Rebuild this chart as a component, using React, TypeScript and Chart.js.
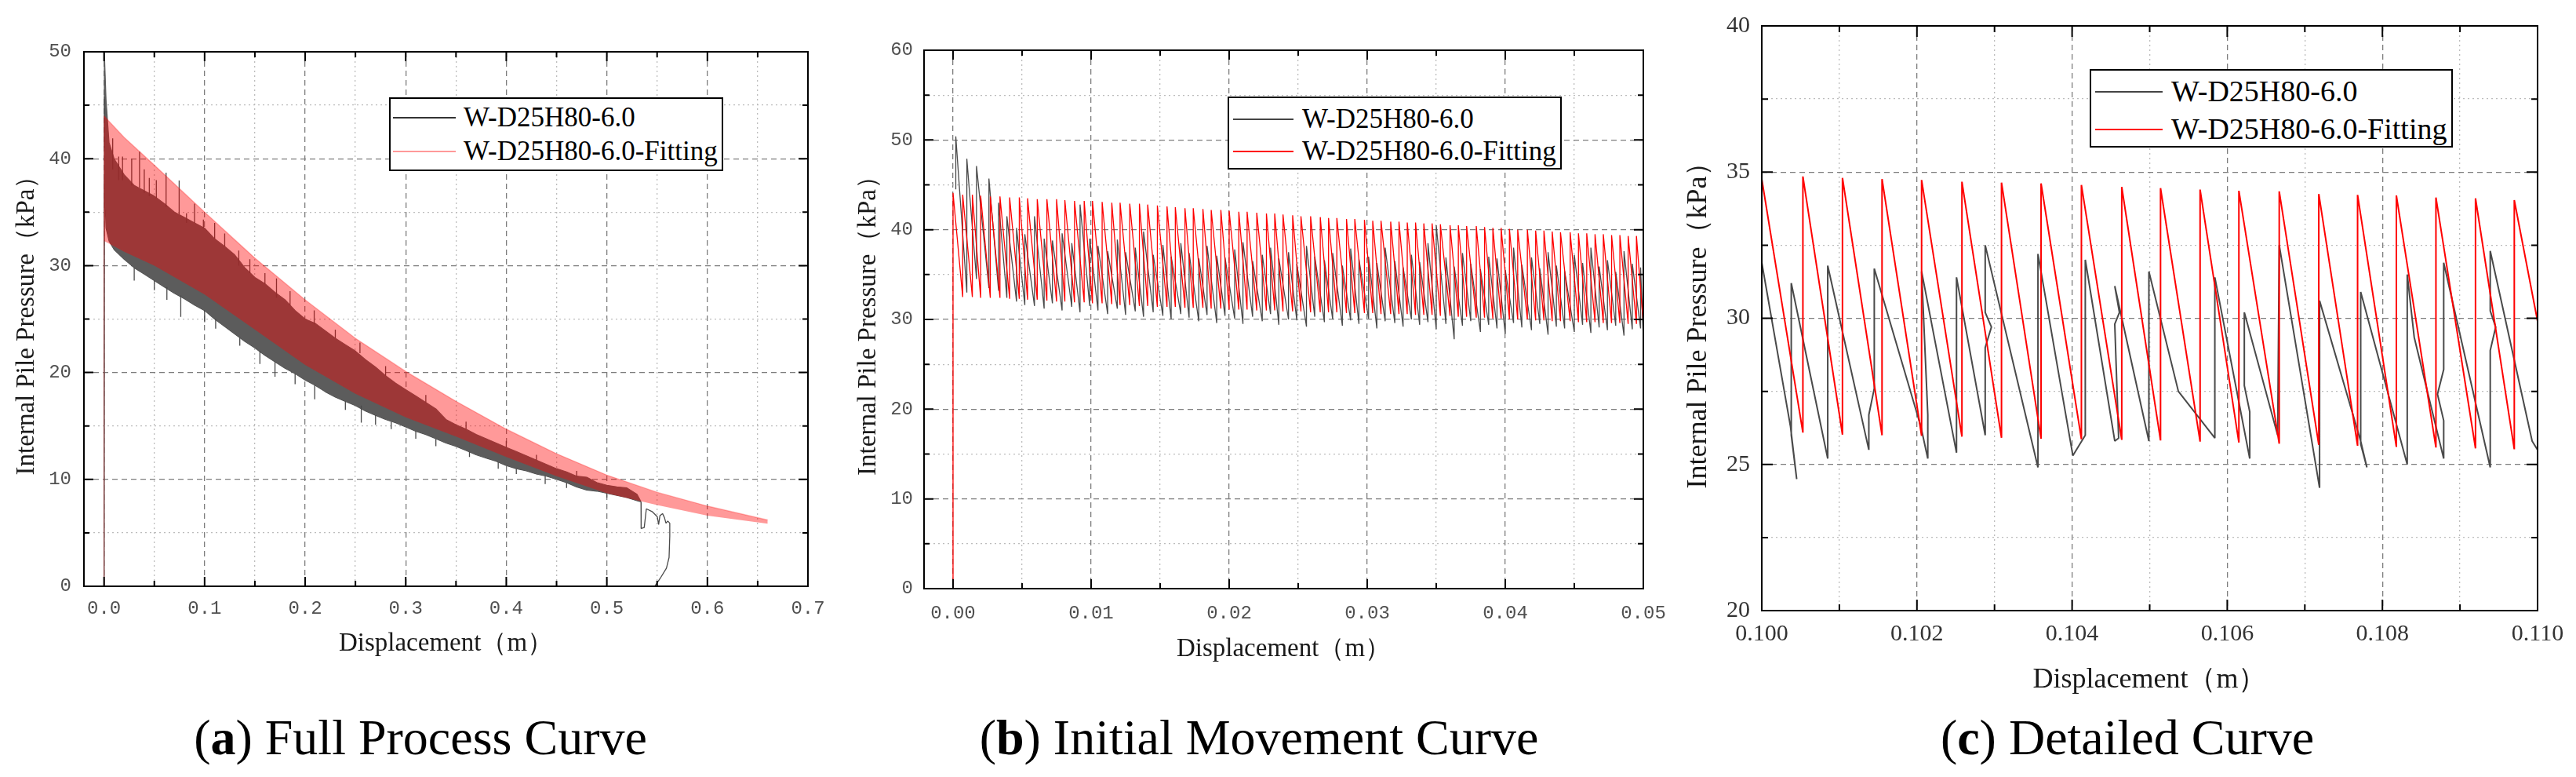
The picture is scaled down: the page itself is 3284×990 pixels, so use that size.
import { useEffect, useRef } from 'react';
import Chart from 'chart.js/auto';

const SERIF = '"Liberation Serif", "Times New Roman", serif';
const MONO = '"Liberation Mono", "DejaVu Sans Mono", monospace';
const GRAY = '#4a4a4a';
const BAND_GRAY = '#5c5c5c';
const RED = '#ff0000';

const LABEL_DATA = 'W-D25H80-6.0';
const LABEL_FIT = 'W-D25H80-6.0-Fitting';
const Y_TITLE = 'Internal Pile Pressure（kPa）';
const X_TITLE = 'Displacement（m）';

// ---------- (a) full process curve ----------
const aFitX = [0, 0, 0.02, 0.05, 0.1, 0.15, 0.2, 0.25, 0.3, 0.35, 0.4, 0.45, 0.5, 0.55, 0.6, 0.66];
const aFitHi = [0, 44.0, 42.0, 39.4, 35.0, 30.7, 26.8, 23.2, 20.1, 17.3, 14.7, 12.4, 10.4, 8.8, 7.5, 6.2];
const aFitLo = [0, 32.3, 31.3, 30.0, 27.3, 24.0, 20.7, 18.0, 15.8, 14.0, 12.1, 10.3, 8.7, 7.6, 6.6, 5.85];

const aBlkX = [0, 0.0003, 0.002, 0.005, 0.01, 0.02, 0.03, 0.04, 0.05, 0.06, 0.07, 0.08, 0.09, 0.10,
  0.11, 0.12, 0.13, 0.14, 0.15, 0.16, 0.17, 0.18, 0.19, 0.20, 0.21, 0.22, 0.23, 0.24, 0.25, 0.26, 0.27,
  0.28, 0.29, 0.30, 0.31, 0.32, 0.33, 0.34, 0.35, 0.36, 0.37, 0.38, 0.39, 0.40, 0.41, 0.42, 0.43, 0.44,
  0.45, 0.46, 0.47, 0.48, 0.49, 0.50, 0.51, 0.52, 0.53, 0.534];
const aBlkHi = [0, 50.0, 45.5, 41.5, 40.0, 38.5, 37.5, 37.0, 36.5, 35.8, 35.0, 34.5, 34.0, 33.5,
  32.5, 31.8, 31.0, 29.8, 28.9, 28.3, 27.5, 26.8, 25.8, 25.0, 24.6, 23.9, 23.2, 22.6, 22.0, 21.2, 20.5,
  19.7, 19.0, 18.4, 17.8, 17.2, 16.6, 15.6, 15.1, 14.7, 14.2, 13.8, 13.4, 13.0, 12.6, 12.2, 11.8, 11.4,
  11.0, 10.7, 10.3, 10.2, 9.7, 9.45, 9.3, 9.2, 8.6, 7.9];
const aBlkLo = [0, 38.0, 33.5, 32.3, 31.5, 30.6, 29.8, 29.2, 28.6, 28.0, 27.4, 26.9, 26.3, 25.8,
  25.0, 24.3, 23.6, 22.9, 22.3, 21.6, 21.0, 20.4, 19.9, 19.3, 18.8, 18.2, 17.7, 17.3, 16.9, 16.4, 16.0,
  15.6, 15.3, 14.9, 14.5, 14.2, 13.8, 13.4, 13.1, 12.7, 12.3, 12.0, 11.7, 11.3, 11.0, 10.8, 10.5, 10.3,
  10.0, 9.7, 9.3, 9.0, 8.9, 8.7, 8.5, 8.3, 8.0, 7.9];

// single spikes sticking out of the dense band
const aSpikeX = [0.0005, 0.0086, 0.0146, 0.0184, 0.0275, 0.030, 0.0353, 0.040, 0.045, 0.050, 0.052,
  0.0617, 0.0625, 0.0747, 0.0763, 0.082, 0.090, 0.0988, 0.100, 0.110, 0.111, 0.120, 0.134, 0.135,
  0.145, 0.155, 0.160, 0.170, 0.1715, 0.185, 0.190, 0.209, 0.2095, 0.230, 0.240, 0.2545, 0.2558,
  0.270, 0.280, 0.2856, 0.310, 0.320, 0.330, 0.360, 0.3634, 0.392, 0.400, 0.410, 0.430, 0.4387,
  0.460, 0.470, 0.500];
const aSpikeTop = [45.8, 41.9, 40.2, 40.2, 40.0, 29.8, 40.65, 39.0, 38.2, 28.6, 38.0,
  38.7, 28.0, 37.96, 27.2, 34.9, 35.8, 34.3, 25.8, 34.0, 25.0, 33.0, 31.4, 23.3,
  30.6, 22.0, 29.3, 21.0, 28.8, 27.6, 19.9, 25.8, 18.8, 24.0, 17.3, 22.8, 16.9,
  16.0, 20.6, 15.4, 14.5, 17.9, 13.8, 15.4, 12.6, 11.6, 13.6, 11.0, 12.3, 10.3,
  9.7, 10.8, 8.7];
const aSpikeBot = [41.0, 39.0, 38.0, 38.0, 37.5, 28.6, 37.3, 36.8, 36.5, 27.7, 36.3,
  35.5, 26.8, 34.8, 25.2, 34.0, 34.0, 33.5, 24.7, 32.5, 24.1, 31.8, 30.0, 22.5,
  29.3, 20.8, 28.3, 19.6, 27.0, 26.3, 18.9, 24.5, 17.5, 23.2, 16.5, 21.8, 15.3,
  15.1, 19.7, 14.7, 13.8, 17.2, 13.1, 14.7, 12.1, 11.0, 13.0, 10.5, 11.8, 9.57,
  9.2, 10.3, 8.3];

// measured curve after the band ends (drops and returns to zero)
const aTailX = [0.534, 0.5341, 0.5372, 0.5393, 0.5450, 0.5476, 0.5502, 0.5515, 0.5528, 0.5554,
  0.5574, 0.5588, 0.5606, 0.5626, 0.5626, 0.5619, 0.5593, 0.5528, 0.5476];
const aTailY = [7.9, 5.4, 5.5, 7.25, 6.99, 6.75, 6.5, 5.77, 6.6, 6.8,
  6.4, 5.9, 6.1, 5.9, 4.7, 2.7, 1.7, 0.7, 0.0];

const aXMajor = [0, 0.1, 0.2, 0.3, 0.4, 0.5, 0.6, 0.7];
const aXMinor = [0.05, 0.15, 0.25, 0.35, 0.45, 0.55, 0.65];
const aYMajor = [0, 10, 20, 30, 40, 50];
const aYMinor = [5, 15, 25, 35, 45];

// ---------- (b) initial movement curve ----------
const bFitX = [0.0000, 0.0007, 0.0014, 0.0020, 0.0027, 0.0034, 0.0041, 0.0048, 0.0054, 0.0061,
  0.0068, 0.0075, 0.0081, 0.0088, 0.0095, 0.0101, 0.0108, 0.0115, 0.0121, 0.0128,
  0.0135, 0.0141, 0.0148, 0.0155, 0.0161, 0.0168, 0.0174, 0.0181, 0.0187, 0.0194,
  0.0200, 0.0207, 0.0213, 0.0220, 0.0227, 0.0233, 0.0239, 0.0246, 0.0252, 0.0259,
  0.0266, 0.0272, 0.0278, 0.0285, 0.0291, 0.0298, 0.0304, 0.0310, 0.0317, 0.0323,
  0.0329, 0.0335, 0.0341, 0.0347, 0.0353, 0.0360, 0.0366, 0.0372, 0.0379, 0.0385,
  0.0391, 0.0397, 0.0403, 0.0409, 0.0416, 0.0422, 0.0428, 0.0434, 0.0440, 0.0447,
  0.0453, 0.0459, 0.0465, 0.0471, 0.0477, 0.0483, 0.0489, 0.0495, 0.0500];
const bFitLow = [0, 32.5, 32.5, 32.4, 32.4, 32.4, 32.3, 32.3, 32.2, 32.2,
  32.1, 32.0, 32.0, 31.9, 31.9, 31.8, 31.8, 31.7, 31.6, 31.6,
  31.5, 31.5, 31.4, 31.4, 31.4, 31.3, 31.3, 31.3, 31.2, 31.2,
  31.1, 31.1, 31.1, 31.0, 31.0, 31.0, 30.9, 30.9, 30.9, 30.8,
  30.8, 30.8, 30.8, 30.7, 30.7, 30.7, 30.7, 30.6, 30.6, 30.6,
  30.6, 30.5, 30.5, 30.5, 30.4, 30.4, 30.3, 30.3, 30.2, 30.2,
  30.1, 30.1, 30.0, 30.0, 30.0, 29.9, 29.9, 29.8, 29.8, 29.8,
  29.7, 29.7, 29.7, 29.6, 29.6, 29.6, 29.5, 29.5, 29.5];
const bFitPeak = [44.1, 43.9, 43.9, 43.8, 43.7, 43.7, 43.6, 43.6, 43.5, 43.4,
  43.4, 43.4, 43.3, 43.2, 43.2, 43.2, 43.1, 43.0, 43.0, 42.9,
  42.9, 42.8, 42.7, 42.6, 42.5, 42.4, 42.4, 42.3, 42.2, 42.2,
  42.1, 42.0, 42.0, 41.9, 41.8, 41.8, 41.7, 41.6, 41.5, 41.5,
  41.4, 41.3, 41.3, 41.2, 41.2, 41.1, 41.0, 41.0, 40.9, 40.9,
  40.8, 40.8, 40.7, 40.7, 40.6, 40.5, 40.5, 40.4, 40.4, 40.3,
  40.2, 40.2, 40.1, 40.0, 40.0, 39.9, 39.9, 39.8, 39.7, 39.7,
  39.6, 39.6, 39.5, 39.5, 39.4, 39.4, 39.3, 39.3, 39.3];

const bBlkX = [0.0002, 0.0010, 0.0017, 0.0026, 0.0033, 0.0039, 0.0046, 0.0052, 0.0059, 0.0066,
  0.0072, 0.0079, 0.0086, 0.0092, 0.0099, 0.0105, 0.0112, 0.0119, 0.0125, 0.0132,
  0.0138, 0.0145, 0.0152, 0.0158, 0.0165, 0.0171, 0.0178, 0.0184, 0.0191, 0.0197,
  0.0204, 0.0210, 0.0217, 0.0224, 0.0230, 0.0236, 0.0243, 0.0249, 0.0256, 0.0262,
  0.0269, 0.0275, 0.0282, 0.0288, 0.0294, 0.0301, 0.0307, 0.0313, 0.0320, 0.0326,
  0.0332, 0.0338, 0.0344, 0.0350, 0.0357, 0.0363, 0.0369, 0.0375, 0.0382, 0.0388,
  0.0394, 0.0400, 0.0406, 0.0412, 0.0419, 0.0425, 0.0431, 0.0437, 0.0443, 0.0450,
  0.0456, 0.0462, 0.0468, 0.0474, 0.0480, 0.0486, 0.0492, 0.0498, 0.0500];
const bBlkLow = [44.5, 33.0, 34.5, 33.5, 33.2, 32.4, 32.0, 31.6, 31.5, 31.2,
  31.8, 31.0, 31.4, 30.8, 31.5, 31.0, 30.6, 31.2, 30.5, 30.9,
  30.3, 30.8, 30.4, 30.0, 30.6, 30.2, 29.8, 30.5, 29.6, 30.4,
  30.1, 29.5, 30.3, 29.8, 30.6, 29.4, 30.0, 29.9, 29.2, 30.3,
  29.7, 30.0, 29.3, 29.9, 29.5, 30.1, 29.0, 29.8, 29.6, 29.2,
  30.0, 29.4, 29.7, 28.9, 29.5, 27.8, 29.3, 29.8, 28.6, 29.4,
  29.0, 28.4, 29.6, 29.1, 28.8, 29.5, 28.3, 29.2, 29.0, 28.6,
  29.4, 28.5, 29.1, 28.8, 29.3, 28.2, 28.9, 29.0, 27.9];
const bBlkPeak = [50.4, 47.9, 47.1, 45.7, 43.0, 41.5, 40.2, 39.5, 41.5, 39.0,
  38.8, 39.6, 38.5, 42.8, 39.0, 38.2, 37.6, 38.9, 37.5, 38.0,
  39.8, 37.2, 38.3, 37.0, 38.5, 37.4, 36.8, 38.2, 37.1, 36.9,
  37.8, 38.6, 36.5, 37.2, 38.0, 36.8, 37.5, 36.2, 38.2, 37.0,
  36.6, 37.4, 36.0, 37.9, 36.7, 37.0, 36.3, 38.0, 36.5, 35.8,
  37.2, 36.4, 38.5, 40.5, 36.9, 35.9, 37.4, 36.2, 35.6, 37.0,
  36.8, 35.5, 38.0, 36.1, 36.9, 35.7, 37.5, 36.0, 35.4, 37.2,
  36.3, 38.0, 35.9, 36.6, 35.3, 37.6, 36.2, 35.8, 27.9];

const bXMajor = [0, 0.01, 0.02, 0.03, 0.04, 0.05];
const bXMinor = [0.005, 0.015, 0.025, 0.035, 0.045];
const bYMajor = [0, 10, 20, 30, 40, 50, 60];
const bYMinor = [5, 15, 25, 35, 45, 55];

// ---------- (c) detailed curve ----------
const cFitX = [0.10000, 0.10053, 0.10104, 0.10155, 0.10206, 0.10258, 0.10309, 0.10360, 0.10412, 0.10464,
  0.10514, 0.10565, 0.10615, 0.10667, 0.10718, 0.10768, 0.10818, 0.10869, 0.10920, 0.10970, 0.11000];
const cFitLow = [34.76, 26.09, 26.02, 26.00, 25.98, 25.95, 25.91, 25.88, 25.86, 25.84,
  25.82, 25.78, 25.75, 25.71, 25.67, 25.64, 25.60, 25.58, 25.55, 25.52, 29.9];
const cFitPeak = [34.76, 34.85, 34.80, 34.76, 34.73, 34.67, 34.64, 34.61, 34.56, 34.49,
  34.45, 34.40, 34.36, 34.34, 34.25, 34.22, 34.20, 34.13, 34.10, 34.04, 29.9];

const cBlkX = [0.10000, 0.10037, 0.10045, 0.10038, 0.10038, 0.10085, 0.10085, 0.10138, 0.10138, 0.10145,
  0.10145, 0.10205, 0.10214, 0.10214, 0.10206, 0.10251, 0.10251, 0.10288, 0.10288, 0.10296,
  0.10288, 0.10288, 0.10356, 0.10356, 0.10401, 0.10417, 0.10417, 0.10455, 0.10460, 0.10455,
  0.10461, 0.10455, 0.10499, 0.10499, 0.10537, 0.10584, 0.10584, 0.10629, 0.10629, 0.10622,
  0.10622, 0.10665, 0.10667, 0.10719, 0.10719, 0.10772, 0.10780, 0.10772, 0.10772, 0.10832,
  0.10832, 0.10841, 0.10879, 0.10879, 0.10871, 0.10879, 0.10879, 0.10939, 0.10939, 0.10946,
  0.10939, 0.10939, 0.10993, 0.11000];
const cBlkY = [31.9, 26.3, 24.5, 26.0, 31.2, 25.2, 31.8, 25.5, 26.7, 27.6,
  31.7, 26.3, 25.2, 26.7, 31.6, 25.4, 31.4, 26.0, 29.0, 29.7,
  30.2, 32.5, 24.9, 32.2, 25.3, 26.0, 32.0, 25.8, 25.9, 29.8,
  30.2, 31.1, 25.8, 31.6, 27.5, 25.9, 31.4, 25.2, 26.8, 27.7,
  30.2, 26.0, 32.5, 24.2, 30.6, 25.8, 24.9, 25.7, 30.9, 25.0,
  31.5, 29.35, 25.2, 26.5, 27.4, 28.25, 31.9, 24.9, 28.9, 29.7,
  30.25, 32.3, 25.8, 25.5];

const cXMajor = [0.100, 0.102, 0.104, 0.106, 0.108, 0.110];
const cXMinor = [0.101, 0.103, 0.105, 0.107, 0.109];
const cYMajor = [20, 25, 30, 35, 40];
const cYMinor = [22.5, 27.5, 32.5, 37.5];

// ---------- helpers ----------
type Pt = { x: number; y: number | null };

function zip(xs: number[], ys: number[]): Pt[] {
  return xs.map((x, i) => ({ x, y: ys[i] }));
}

// vertical rise at each x from low to peak, straight fall to the next low
function sawtooth(xs: number[], lows: number[], peaks: number[]): Pt[] {
  const pts: Pt[] = [];
  xs.forEach((x, i) => {
    pts.push({ x, y: lows[i] });
    pts.push({ x, y: peaks[i] });
  });
  return pts;
}

function spikes(xs: number[], tops: number[], bots: number[]): Pt[] {
  const pts: Pt[] = [];
  xs.forEach((x, i) => {
    pts.push({ x, y: bots[i] }, { x, y: tops[i] }, { x, y: null });
  });
  return pts;
}

function axis(o: any, horizontal: boolean) {
  return {
    type: 'linear',
    min: o.min,
    max: o.max,
    afterBuildTicks: (scale: any) => {
      scale.ticks = [
        ...o.major.map((v: number) => ({ value: v, lab: true })),
        ...o.minor.map((v: number) => ({ value: v, lab: false })),
      ].sort((p, q) => p.value - q.value);
    },
    afterFit: (scale: any) => {
      if (horizontal) scale.height = o.size;
      else scale.width = o.size;
    },
    ticks: {
      autoSkip: false,
      maxRotation: 0,
      minRotation: 0,
      padding: o.tickPad,
      color: o.tickColor,
      font: o.tickFont,
      callback: (v: number, i: number, ticks: any[]) => (ticks[i] && ticks[i].lab ? o.fmt(v) : ''),
    },
    grid: {
      drawTicks: false,
      lineWidth: 1.3,
      color: (c: any) => (c.tick && c.tick.lab ? '#7d7d7d' : '#bcbcbc'),
    },
    border: {
      display: false,
      dash: (c: any) => (c.tick && c.tick.lab ? [7, 5] : [2, 4]),
    },
    title: {
      display: true,
      text: o.title,
      color: '#1a1a1a',
      font: o.titleFont,
      padding: o.titlePad,
    },
  };
}

// black frame with inward tick marks on all four sides
const framePlugin = {
  id: 'frame',
  afterDatasetsDraw(chart: any, _args: any, opts: any) {
    const { ctx, chartArea } = chart;
    const { left, right, top, bottom } = chartArea;
    const sx = chart.scales.x;
    const sy = chart.scales.y;
    ctx.save();
    ctx.strokeStyle = '#000';
    ctx.lineWidth = 2;
    ctx.setLineDash([]);
    ctx.beginPath();
    sx.ticks.forEach((t: any) => {
      const p = sx.getPixelForValue(t.value);
      if (p < left + 2 || p > right - 2) return;
      const len = t.lab ? opts.major : opts.minor;
      ctx.moveTo(p, bottom);
      ctx.lineTo(p, bottom - len);
      ctx.moveTo(p, top);
      ctx.lineTo(p, top + len);
    });
    sy.ticks.forEach((t: any) => {
      const p = sy.getPixelForValue(t.value);
      if (p < top + 2 || p > bottom - 2) return;
      const len = t.lab ? opts.major : opts.minor;
      ctx.moveTo(left, p);
      ctx.lineTo(left + len, p);
      ctx.moveTo(right, p);
      ctx.lineTo(right - len, p);
    });
    ctx.stroke();
    ctx.strokeRect(left, top, right - left, bottom - top);
    ctx.restore();
  },
};

function baseConfig(datasets: any[], padding: any, x: any, y: any, ticksLen: any) {
  return {
    type: 'line',
    data: { datasets },
    options: {
      animation: false,
      responsive: true,
      maintainAspectRatio: false,
      events: [],
      layout: { padding },
      elements: {
        point: { radius: 0 },
        line: { tension: 0, borderJoinStyle: 'bevel' },
      },
      plugins: {
        legend: { display: false },
        tooltip: { enabled: false },
        frame: ticksLen,
      },
      scales: { x: axis(x, true), y: axis(y, false) },
    },
    plugins: [framePlugin],
  };
}

const monoTick = { family: MONO, size: 24 };
const serifTitle = { family: SERIF, size: 33 };

function configA() {
  const datasets = [
    { label: LABEL_FIT, data: zip(aFitX, aFitHi), borderColor: 'rgba(255,0,0,0.25)', borderWidth: 1.5,
      backgroundColor: 'rgba(255,0,0,0.40)', fill: '+1', order: 0 },
    { label: 'fit-low', data: zip(aFitX, aFitLo), borderColor: 'transparent', borderWidth: 1, order: 1 },
    { label: 'spikes', data: spikes(aSpikeX, aSpikeTop, aSpikeBot), borderColor: GRAY, borderWidth: 1.3, order: 2 },
    { label: 'tail', data: zip(aTailX, aTailY), borderColor: GRAY, borderWidth: 1.3, order: 2 },
    { label: LABEL_DATA, data: zip(aBlkX, aBlkHi), borderColor: BAND_GRAY, borderWidth: 1.2,
      backgroundColor: BAND_GRAY, fill: '+1', order: 3 },
    { label: 'data-low', data: zip(aBlkX, aBlkLo), borderColor: GRAY, borderWidth: 1.2, order: 4 },
  ];
  return baseConfig(
    datasets,
    { left: 0, top: 66, right: 60, bottom: 23 },
    { min: -0.02, max: 0.7, major: aXMajor, minor: aXMinor, fmt: (v: number) => v.toFixed(1),
      title: X_TITLE, size: 110, tickPad: 14, tickColor: '#505050', tickFont: monoTick,
      titleFont: serifTitle, titlePad: { top: 0, bottom: 17 } },
    { min: 0, max: 50, major: aYMajor, minor: aYMinor, fmt: (v: number) => String(v),
      title: Y_TITLE, size: 107, tickPad: 16, tickColor: '#505050', tickFont: monoTick,
      titleFont: serifTitle, titlePad: { top: 15, bottom: 0 } },
    { major: 12, minor: 7 },
  );
}

function configB() {
  const datasets = [
    { label: LABEL_FIT, data: sawtooth(bFitX, bFitLow, bFitPeak), borderColor: RED, borderWidth: 1.3, order: 0 },
    { label: LABEL_DATA, data: sawtooth(bBlkX, bBlkLow, bBlkPeak), borderColor: GRAY, borderWidth: 1.3, order: 1 },
  ];
  return baseConfig(
    datasets,
    { left: 0, top: 64, right: 95, bottom: 20 },
    { min: -0.0021, max: 0.05, major: bXMajor, minor: bXMinor, fmt: (v: number) => v.toFixed(2),
      title: X_TITLE, size: 110, tickPad: 17, tickColor: '#505050', tickFont: monoTick,
      titleFont: serifTitle, titlePad: { top: 0, bottom: 13 } },
    { min: 0, max: 60, major: bYMajor, minor: bYMinor, fmt: (v: number) => String(v),
      title: Y_TITLE, size: 93, tickPad: 14, tickColor: '#505050', tickFont: monoTick,
      titleFont: serifTitle, titlePad: { top: 3, bottom: 0 } },
    { major: 12, minor: 7 },
  );
}

function configC() {
  const datasets = [
    { label: LABEL_FIT, data: sawtooth(cFitX, cFitLow, cFitPeak), borderColor: RED, borderWidth: 2, order: 0 },
    { label: LABEL_DATA, data: zip(cBlkX, cBlkY), borderColor: GRAY, borderWidth: 2, order: 1 },
  ];
  const tf = { family: SERIF, size: 30 };
  const ttf = { family: SERIF, size: 36 };
  return baseConfig(
    datasets,
    { left: 0, top: 32, right: 49, bottom: 12 },
    { min: 0.1, max: 0.11, major: cXMajor, minor: cXMinor, fmt: (v: number) => v.toFixed(3),
      title: X_TITLE, size: 110, tickPad: 12, tickColor: '#333', tickFont: tf,
      titleFont: ttf, titlePad: { top: 0, bottom: 0 } },
    { min: 20, max: 40, major: cYMajor, minor: cYMinor, fmt: (v: number) => String(v),
      title: Y_TITLE, size: 106, tickPad: 15, tickColor: '#333', tickFont: tf,
      titleFont: ttf, titlePad: { top: 4, bottom: 0 } },
    { major: 14, minor: 8 },
  );
}

function ChartPanel({ left, top, width, height, make }: any) {
  const canvasRef = useRef<HTMLCanvasElement>(null);
  useEffect(() => {
    if (!canvasRef.current) return;
    const chart = new Chart(canvasRef.current, make());
    return () => {
      chart.destroy();
    };
  }, [make]);
  return (
    <div style={{ position: 'absolute', left, top, width, height }}>
      <canvas ref={canvasRef} />
    </div>
  );
}

function Legend({ left, top, width, height, fontSize, rowY, lineX, textX, colors }: any) {
  const labels = [LABEL_DATA, LABEL_FIT];
  return (
    <div style={{ position: 'absolute', left, top, width, height, border: '2px solid #000',
      boxSizing: 'border-box', background: '#fff' }}>
      {labels.map((lab, i) => (
        <div key={lab}>
          <div style={{ position: 'absolute', left: lineX[0], width: lineX[1] - lineX[0],
            top: rowY[i] - 1, height: 2, background: colors[i] }} />
          <div style={{ position: 'absolute', left: textX, top: rowY[i] - fontSize * 0.6,
            fontFamily: SERIF, fontSize, lineHeight: `${fontSize * 1.2}px`, color: '#000',
            whiteSpace: 'nowrap' }}>{lab}</div>
        </div>
      ))}
    </div>
  );
}

function Caption({ cx, letter, text }: any) {
  return (
    <div style={{ position: 'absolute', left: cx, top: 905, transform: 'translateX(-50%)',
      fontFamily: SERIF, fontSize: 64, lineHeight: '70px', color: '#000', whiteSpace: 'nowrap' }}>
      (<b>{letter}</b>) {text}
    </div>
  );
}

export default function App() {
  return (
    <div style={{ position: 'absolute', left: 0, top: 0, width: 3284, height: 990,
      background: '#fff', overflow: 'hidden' }}>
      <ChartPanel left={0} top={0} width={1090} height={880} make={configA} />
      <ChartPanel left={1085} top={0} width={1105} height={880} make={configB} />
      <ChartPanel left={2140} top={0} width={1144} height={900} make={configC} />

      <Legend left={496} top={124} width={426} height={94} fontSize={35}
        rowY={[24, 67]} lineX={[3, 83]} textX={93} colors={['#333', 'rgba(255,0,0,0.4)']} />
      <Legend left={1565} top={123} width={426} height={93} fontSize={35}
        rowY={[27, 68]} lineX={[5, 82]} textX={93} colors={['#444', RED]} />
      <Legend left={2664} top={88} width={463} height={100} fontSize={38}
        rowY={[27, 75]} lineX={[5, 91]} textX={102} colors={['#444', RED]} />

      <Caption cx={536} letter="a" text="Full Process Curve" />
      <Caption cx={1605} letter="b" text="Initial Movement Curve" />
      <Caption cx={2712} letter="c" text="Detailed Curve" />
    </div>
  );
}
